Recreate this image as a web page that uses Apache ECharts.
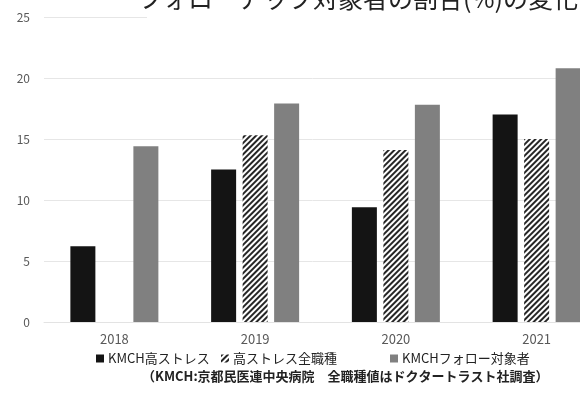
<!DOCTYPE html>
<html>
<head>
<meta charset="utf-8">
<script src="https://cdn.jsdelivr.net/npm/echarts@6/dist/echarts.min.js"></script>
<style>
  html, body { margin: 0; padding: 0; background: #fff; }
  #chart { width: 580px; height: 395px; }
</style>
</head>
<body>
<div id="chart"></div>
<script>
// 年度ごとの比率（%）
const years = ['2018', '2019', '2020', '2021'];
const kmchHighStress = [6.2, 12.5, 9.4, 17.0];
const allJobsHighStress = [null, 15.3, 14.1, 15.0];
const kmchFollowUp = [14.4, 17.9, 17.8, 20.8];
const yTicks = [0, 5, 10, 15, 20, 25];

const titleText = 'フォローアップ対象者の割合(%)の変化';
const noteText = '（KMCH:京都民医連中央病院　全職種値はドクタートラスト社調査）';
const seriesNames = ['KMCH高ストレス', '高ストレス全職種', 'KMCHフォロー対象者'];

const font = '"Noto Sans CJK JP", "Noto Sans", sans-serif';
const chart = echarts.init(document.getElementById('chart'), null, { renderer: 'canvas' });

// one legend entry per box so each sits where it belongs on the row
const legendPos = [91, 216, 385];
const legends = seriesNames.map((name, i) => ({
  data: [name],
  left: legendPos[i],
  top: 347,
  icon: 'rect',
  itemWidth: 8,
  itemHeight: 8,
  itemGap: 0,
  textStyle: { color: '#222', fontSize: 13, fontFamily: font, padding: [0, 0, 0, -1] }
}));

chart.setOption({
  animation: false,
  backgroundColor: '#ffffff',
  textStyle: { fontFamily: font },
  // the plot runs past the right edge of the canvas
  grid: { left: 44, width: 563, top: 17, height: 305, outerBoundsMode: 'none', containLabel: false },
  xAxis: {
    type: 'category',
    data: years,
    axisLine: { show: true, lineStyle: { color: '#e3e3e3', width: 1 } },
    axisTick: { show: false },
    axisLabel: { color: '#595959', fontSize: 13, margin: 11 }
  },
  yAxis: {
    type: 'value',
    min: yTicks[0],
    max: yTicks[yTicks.length - 1],
    interval: 5,
    axisLine: { show: false },
    axisTick: { show: false },
    axisLabel: { color: '#595959', fontSize: 12, margin: 14 },
    splitLine: { lineStyle: { color: '#e6e6e6', width: 1 } }
  },
  legend: legends,
  series: [
    {
      name: seriesNames[0],
      type: 'bar',
      data: kmchHighStress,
      barWidth: 25,
      barGap: '26%',
      itemStyle: { color: '#141414' }
    },
    {
      name: seriesNames[1],
      type: 'bar',
      data: allJobsHighStress,
      barWidth: 25,
      barGap: '26%',
      itemStyle: {
        color: '#ffffff',
        decal: {
          symbol: 'rect',
          color: '#262626',
          dashArrayX: [1, 0],
          dashArrayY: [2, 2],
          rotation: -Math.PI / 4
        }
      }
    },
    {
      name: seriesNames[2],
      type: 'bar',
      data: kmchFollowUp,
      barWidth: 25,
      barGap: '26%',
      itemStyle: { color: '#808080' }
    }
  ],
  graphic: [
    {
      type: 'rect',
      left: 147,
      top: 0,
      shape: { width: 440, height: 22 },
      style: { fill: '#ffffff' },
      z: 100
    },
    {
      type: 'text',
      right: 2,
      top: -14,
      style: {
        text: titleText,
        fontSize: 25,
        fontFamily: '"Noto Sans CJK JP", serif',
        fill: '#222222'
      },
      z: 101
    },
    {
      type: 'text',
      left: 142,
      top: 370,
      style: {
        text: noteText,
        fontSize: 13,
        fontWeight: 'bold',
        fontFamily: font,
        fill: '#222222'
      },
      z: 101
    }
  ]
});
</script>
</body>
</html>
